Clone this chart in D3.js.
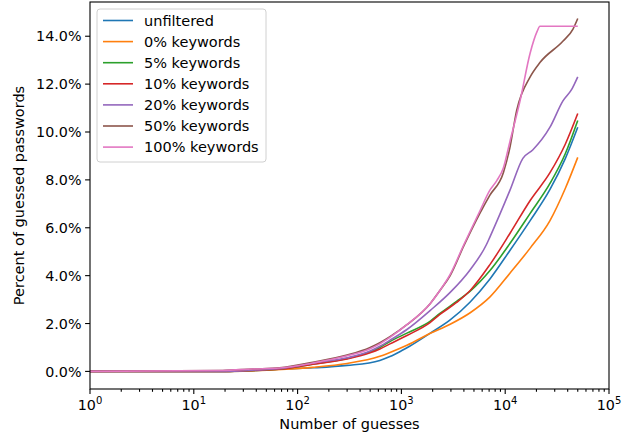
<!DOCTYPE html>
<html>
<head>
<meta charset="utf-8">
<script src="https://cdn.jsdelivr.net/npm/d3@7"></script>
<style>
  body { margin: 0; background: #fff; }
  svg text { font-family: 'DejaVu Sans', sans-serif; fill: #000; }
</style>
</head>
<body>
<svg id="chart" width="634" height="436"></svg>
<script>
const seriesNames = ['unfiltered', '0% keywords', '5% keywords', '10% keywords', '20% keywords', '50% keywords', '100% keywords']
const seriesColors = ['#1f77b4', '#ff7f0e', '#2ca02c', '#d62728', '#9467bd', '#8c564b', '#e377c2']

// [number of guesses, percent guessed]
const unfiltered = [[1, 0], [20, 0], [40, 0.03], [70, 0.1], [140, 0.15], [300, 0.25], [620, 0.46], [776, 0.62], [1000, 0.86], [1200, 1.05], [1900, 1.6], [2950, 2.15], [4600, 2.9], [7100, 3.85], [11100, 5.05], [17400, 6.3], [27000, 7.6], [38000, 8.9], [50000, 10.2]]
const keywords0 = [[1, 0], [20, 0], [35, 0.02], [70, 0.08], [140, 0.17], [300, 0.33], [620, 0.63], [776, 0.79], [1130, 1.09], [1900, 1.59], [2950, 1.97], [4600, 2.45], [7100, 3.1], [11100, 4.1], [17400, 5.15], [27000, 6.3], [38000, 7.65], [50000, 8.94]]
const keywords5 = [[1, 0], [20, 0], [40, 0.05], [70, 0.1], [140, 0.3], [300, 0.54], [500, 0.82], [620, 1.0], [776, 1.25], [1130, 1.6], [1900, 2.1], [2350, 2.42], [3400, 2.92], [4600, 3.35], [7100, 4.2], [11100, 5.34], [17400, 6.6], [27000, 7.85], [38000, 9.1], [50000, 10.48]]
const keywords10 = [[1, 0], [20, 0], [40, 0.05], [70, 0.1], [140, 0.3], [300, 0.52], [500, 0.78], [620, 0.94], [776, 1.15], [1130, 1.5], [1900, 2.05], [2350, 2.38], [3400, 2.88], [4600, 3.38], [7100, 4.45], [11100, 5.76], [17400, 7.14], [27000, 8.3], [38000, 9.5], [50000, 10.77]]
const keywords20 = [[1, 0], [20, 0], [40, 0.06], [70, 0.12], [140, 0.35], [300, 0.57], [500, 0.85], [620, 1.05], [776, 1.3], [1130, 1.75], [1900, 2.55], [2950, 3.3], [4600, 4.25], [6600, 5.3], [7100, 5.6], [11100, 7.56], [14800, 8.9], [18400, 9.25], [27000, 10.2], [36000, 11.3], [44000, 11.8], [50000, 12.3]]
const keywords50 = [[1, 0], [19, 0.04], [37, 0.1], [67, 0.15], [140, 0.38], [300, 0.68], [500, 1.0], [620, 1.2], [776, 1.45], [1130, 1.95], [1900, 2.84], [2350, 3.38], [2950, 4.0], [4000, 5.25], [5700, 6.6], [7100, 7.35], [9600, 8.3], [11100, 9.35], [12900, 10.9], [17400, 12.3], [21600, 12.9], [36100, 13.8], [45000, 14.3], [50000, 14.74]]
const keywords100 = [[1, 0], [19, 0.04], [37, 0.1], [67, 0.14], [140, 0.35], [300, 0.65], [500, 0.95], [620, 1.15], [776, 1.42], [1130, 1.95], [1900, 2.84], [2350, 3.38], [2950, 4.05], [4000, 5.3], [5700, 6.7], [7100, 7.56], [8300, 7.97], [9600, 8.5], [11100, 9.6], [13900, 11.3], [17400, 13.3], [20300, 14.2], [21600, 14.42], [50000, 14.42]]

const seriesValues = [unfiltered, keywords0, keywords5, keywords10, keywords20, keywords50, keywords100]
const yTicks = [0, 2, 4, 6, 8, 10, 12, 14]
const xDecades = [0, 1, 2, 3, 4, 5]

const margin = { top: 2, right: 25, bottom: 47, left: 90 }
const width = 634
const height = 436

const svg = d3.select('#chart')

const x = d3.scaleLog().domain([1, 1e5]).range([margin.left, width - margin.right])
const y = d3.scaleLinear().domain([-0.735, 15.43]).range([height - margin.bottom, margin.top])

function drawAxes() {
  const bottom = height - margin.bottom
  const axisGroup = svg.append('g').attr('stroke', '#000').attr('stroke-width', 1.1)

  // minor ticks of the log axis
  const minor = []
  xDecades.slice(0, -1).forEach(function (d) {
    for (let k = 2; k < 10; k++) minor.push(k * Math.pow(10, d))
  })
  axisGroup.selectAll('line.minor')
    .data(minor)
    .enter()
    .append('line')
    .attr('x1', d => x(d))
    .attr('x2', d => x(d))
    .attr('y1', bottom)
    .attr('y2', bottom + 2.8)

  axisGroup.selectAll('line.major-x')
    .data(xDecades)
    .enter()
    .append('line')
    .attr('x1', d => x(Math.pow(10, d)))
    .attr('x2', d => x(Math.pow(10, d)))
    .attr('y1', bottom)
    .attr('y2', bottom + 4.9)

  axisGroup.selectAll('line.major-y')
    .data(yTicks)
    .enter()
    .append('line')
    .attr('x1', margin.left - 4.9)
    .attr('x2', margin.left)
    .attr('y1', d => y(d))
    .attr('y2', d => y(d))

  const xLabels = svg.selectAll('text.xtick')
    .data(xDecades)
    .enter()
    .append('text')
    .attr('x', d => x(Math.pow(10, d)))
    .attr('y', bottom + 21)
    .attr('text-anchor', 'middle')
    .attr('font-size', 14.3)
  xLabels.append('tspan').text('10')
  xLabels.append('tspan').attr('font-size', 10).attr('dy', -6).text(d => d)

  svg.selectAll('text.ytick')
    .data(yTicks)
    .enter()
    .append('text')
    .attr('x', margin.left - 8.5)
    .attr('y', d => y(d))
    .attr('dy', '0.36em')
    .attr('text-anchor', 'end')
    .attr('font-size', 14.3)
    .text(d => d.toFixed(1) + '%')

  svg.append('text')
    .attr('x', (margin.left + width - margin.right) / 2)
    .attr('y', 429)
    .attr('text-anchor', 'middle')
    .attr('font-size', 14.5)
    .text('Number of guesses')

  svg.append('text')
    .attr('transform', 'translate(24,' + (margin.top + bottom) / 2 + ') rotate(-90)')
    .attr('text-anchor', 'middle')
    .attr('font-size', 14.5)
    .text('Percent of guessed passwords')
}

function drawLines() {
  const line = d3.line()
    .x(d => x(d[0]))
    .y(d => y(d[1]))
    .curve(d3.curveMonotoneX)

  const plot = svg.append('g')
  seriesValues.forEach(function (values, i) {
    plot.append('path')
      .datum(values)
      .attr('d', line)
      .attr('fill', 'none')
      .attr('stroke', seriesColors[i])
      .attr('stroke-width', 1.6)
      .attr('stroke-linejoin', 'round')
  })
}

function drawFrame() {
  svg.append('rect')
    .attr('x', margin.left)
    .attr('y', margin.top)
    .attr('width', width - margin.right - margin.left)
    .attr('height', height - margin.bottom - margin.top)
    .attr('fill', 'none')
    .attr('stroke', '#000')
    .attr('stroke-width', 1.1)
}

function drawLegend() {
  const legend = svg.append('g').attr('transform', 'translate(97,9)')
  legend.append('rect')
    .attr('width', 169)
    .attr('height', 153)
    .attr('rx', 3)
    .attr('fill', '#fff')
    .attr('fill-opacity', 0.8)
    .attr('stroke', '#d0d0d0')
    .attr('stroke-width', 1)

  const rows = legend.selectAll('g.row')
    .data(seriesNames)
    .enter()
    .append('g')
    .attr('transform', (d, i) => 'translate(0,' + (11.5 + i * 21.1) + ')')

  rows.append('line')
    .attr('x1', 6)
    .attr('x2', 36)
    .attr('stroke', (d, i) => seriesColors[i])
    .attr('stroke-width', 1.6)

  rows.append('text')
    .attr('x', 47)
    .attr('dy', '0.36em')
    .attr('font-size', 14.5)
    .text(d => d)
}

drawLines()
drawFrame()
drawAxes()
drawLegend()
</script>
</body>
</html>
